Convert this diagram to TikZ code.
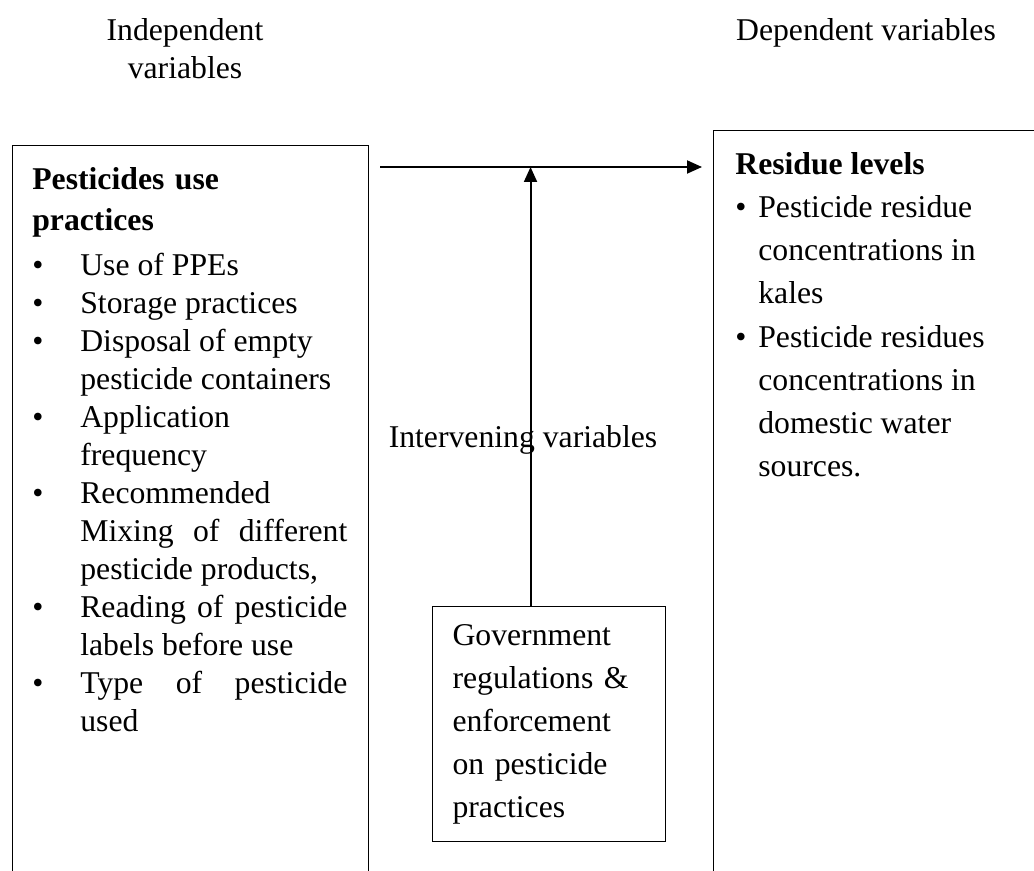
\documentclass[tikz,border=0pt]{standalone}
\usepackage{fontspec}
\setmainfont{Liberation Serif}
\usepackage{array}
\usetikzlibrary{positioning,arrows.meta,calc}
\newcommand{\tightsize}{\fontsize{18.04pt}{21.62pt}\selectfont}
\newcommand{\headsize}{\fontsize{18.04pt}{23.33pt}\selectfont}
\newcommand{\loosesize}{\fontsize{18.04pt}{24.47pt}\selectfont}
\tikzset{
    panel/.style={
        rectangle,
        draw=black,
        line width=0.6pt,
        inner sep=0pt
    },
    lbl/.style={
        inner sep=0pt,
        anchor=base,
        align=center,
        font=\tightsize
    },
    arr/.style={-{Triangle[length=0.3cm,width=0.26cm]},line width=1.1pt,black}
}

\begin{document}
\begin{tikzpicture}
\useasboundingbox (0,0) rectangle (20.68,-17.42);
\clip (0,0) rectangle (20.68,-17.42);

% headings
\node[lbl, text width=5cm] (indep) at (3.7,-0.82) {Independent\\variables};
\node[lbl] (dep) at (17.32,-0.82) {Dependent variables};

% boxes
\node[panel, anchor=north west, minimum width=7.12cm, minimum height=16cm] (leftbox) at (0.24,-2.9) {};
\node[panel, anchor=north west, minimum width=8cm, minimum height=16cm] (rightbox) at (14.26,-2.6) {};
\node[panel, anchor=north west, minimum width=4.66cm, minimum height=4.7cm,
      inner xsep=0.4cm, text width=3.86cm, align=left, font=\loosesize] (govbox) at (8.64,-12.12)
      {Government\\regulations \&\\enforcement\\on pesticide\\practices};

% left box text
\node[anchor=base west, inner sep=0pt, text width=6.4cm, align=left, font=\headsize\bfseries] (lefthead) at (0.64,-3.8)
      {Pesticides use\\practices};
\node[anchor=base west, inner sep=0pt, font=\tightsize] (leftlist) at (0.64,-5.52) {%
  \begin{tabular}[t]{@{}p{0.96cm}@{}p{5.34cm}@{}}
  \textbullet & Use of PPEs\\
  \textbullet & Storage practices\\
  \textbullet & Disposal of empty\newline pesticide containers\\
  \textbullet & Application\newline frequency\\
  \textbullet & Recommended\newline \makebox[\linewidth][s]{Mixing of different}\newline pesticide products,\\
  \textbullet & \makebox[\linewidth][s]{Reading of pesticide}\newline labels before use\\
  \textbullet & \makebox[\linewidth][s]{Type of pesticide}\newline used
  \end{tabular}};

% right box text
\node[anchor=base west, inner sep=0pt, font=\loosesize] (rightlist) at (14.7,-3.5) {%
  \begin{tabular}[t]{@{}p{0.46cm}@{}p{5.5cm}@{}}
  \multicolumn{2}{@{}l@{}}{\textbf{Residue levels}}\\
  \textbullet & Pesticide residue\newline concentrations in\newline kales\\
  \textbullet & Pesticide residues\newline concentrations in\newline domestic water\newline sources.
  \end{tabular}};

% middle label
\node[lbl] (interv) at (10.46,-8.94) {Intervening variables};

% arrows
\coordinate (hstart) at (7.6,-3.34);
\coordinate (hend) at (14.04,-3.34);
\coordinate (meet) at ([xshift=-0.37cm]govbox.north |- hstart);
\draw[arr] (hstart) -- (hend);
\draw[arr] ([xshift=-0.37cm]govbox.north) -- (meet);
\end{tikzpicture}
\end{document}
